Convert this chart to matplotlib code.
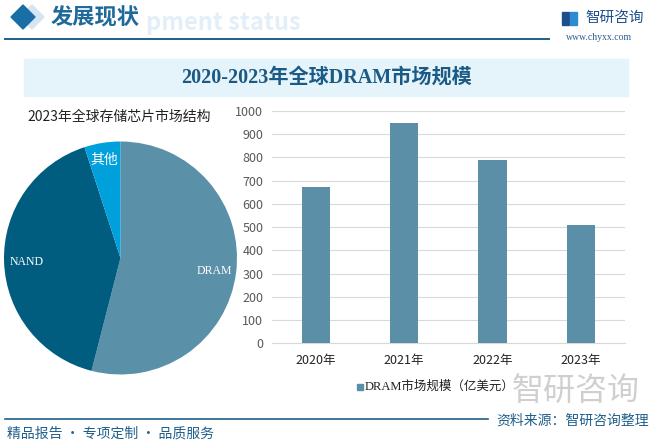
import matplotlib.pyplot as plt
from matplotlib.patches import Polygon, Rectangle

plt.rcParams['font.family'] = ['Noto Sans CJK SC', 'DejaVu Sans']

# data
years = ['2020年', '2021年', '2022年', '2023年']
dram_size = [671, 947, 788, 508]
pie_labels = ['DRAM', 'NAND', '其他']
pie_share = [54, 41, 5]
pie_colors = ['#5B91A8', '#005D80', '#00A0DC']
yticks = [0, 100, 200, 300, 400, 500, 600, 700, 800, 900, 1000]

W, H = 652, 445
fig = plt.figure(figsize=(W / 100, H / 100), dpi=100)
fig.patch.set_facecolor('white')

DARK = '#1F5F8B'


def px(x, y):
    return x / W, 1 - y / H


def ftext(x, y, s, **kw):
    fx, fy = px(x, y)
    fig.text(fx, fy, s, **kw)


# header
ftext(146, 23, 'pment status', fontsize=17, color='#E3EFF8', weight='bold',
      va='center', ha='left', zorder=1)
d2 = Polygon([px(32, 5), px(44, 17), px(32, 29), px(20, 17)], closed=True,
             transform=fig.transFigure, color='#D5E6F2', zorder=1)
d1 = Polygon([px(23, 5), px(35, 17), px(23, 29), px(11, 17)], closed=True,
             transform=fig.transFigure, color='#1A6EA6', zorder=2)
fig.patches.extend([d2, d1])
ftext(51, 18, '发展现状', fontsize=16, color='#1F6A9A', weight='bold',
      va='center', ha='left', zorder=3)
fig.add_artist(plt.Line2D([5 / W, 549 / W], [1 - 39 / H] * 2, color=DARK, lw=1.4))

# logo
fig.patches.append(Rectangle(px(562, 25), 7 / W, 13 / H, transform=fig.transFigure,
                             color='#1F4E8C'))
fig.patches.append(Rectangle(px(570, 25), 7 / W, 13 / H, transform=fig.transFigure,
                             color='#2F8BD0'))
ftext(585, 18, '智研咨询', fontsize=10.5, color='#1F4E8C', va='center', ha='left')
ftext(599, 38, 'www.chyxx.com', fontsize=7, color='#2F5F8A', va='center', ha='center',
      family=['Liberation Serif'])

# title band
fig.patches.append(Rectangle(px(24, 96), (628 - 24) / W, (96 - 59) / H,
                             transform=fig.transFigure, color='#E5F3FB', zorder=0))
ftext(326, 78, '2020-2023年全球DRAM市场规模', fontsize=14.5, weight='bold',
      color='#1A5A85', ha='center', va='center',
      family=['Liberation Serif', 'Noto Sans CJK SC'])

# pie
ax_pie = fig.add_axes([4 / W, 1 - 374.5 / H, 233 / W, 233 / H])
ax_pie.pie(pie_share, colors=pie_colors, startangle=90, counterclock=False,
           radius=1, wedgeprops=dict(linewidth=0))
ax_pie.set_xlim(-1, 1)
ax_pie.set_ylim(-1, 1)
ax_pie.set_aspect('equal')
ax_pie.axis('off')
ftext(119, 117, '2023年全球存储芯片市场结构', fontsize=10, color='#222222',
      ha='center', va='center')
ftext(214, 271, pie_labels[0], fontsize=8.5, color='white', ha='center', va='center',
      family=['Liberation Serif'])
ftext(27, 262, pie_labels[1], fontsize=8.5, color='white', ha='center', va='center',
      family=['Liberation Serif'])
ftext(104, 160, pie_labels[2], fontsize=10, color='white', ha='center', va='center')

# bar chart
ax = fig.add_axes([271.7 / W, 1 - 343.3 / H, (625 - 271.7) / W, (343.3 - 111) / H])
ax.bar(years, dram_size, width=0.32, color='#5B8FA8', zorder=3)
ax.set_ylim(0, 1000)
ax.set_yticks(yticks)
ax.set_xlim(-0.5, 3.5)
ax.grid(axis='y', color='#D9D9D9', lw=0.8, zorder=0)
for s in ['top', 'right', 'left']:
    ax.spines[s].set_visible(False)
ax.spines['bottom'].set_color('#D9D9D9')
ax.tick_params(axis='both', length=0, labelsize=9, colors='#595959', pad=6)
ax.tick_params(axis='x', labelcolor='#222222', pad=8)
ax.set_facecolor('none')

# legend
fig.patches.append(Rectangle(px(357, 390), 6 / W, 6 / H, transform=fig.transFigure,
                             color='#5B8FA8'))
ftext(365, 387, 'DRAM市场规模（亿美元）', fontsize=9, color='#222222', va='center',
      ha='left', family=['Liberation Serif', 'Noto Sans CJK SC'])

# gray logo watermark
ftext(512, 391, '智研咨询', fontsize=23, color='#C4C4C4', va='center', ha='left',
      alpha=0.8)

# footer
fig.add_artist(plt.Line2D([5 / W, 488 / W], [1 - 419 / H] * 2, color=DARK, lw=1.2))
ftext(7, 434, '精品报告 · 专项定制 · 品质服务', fontsize=10, color=DARK, va='center',
      ha='left')
ftext(649, 421, '资料来源：智研咨询整理', fontsize=10, color=DARK, va='center',
      ha='right')

fig.savefig('out.png', dpi=100)
